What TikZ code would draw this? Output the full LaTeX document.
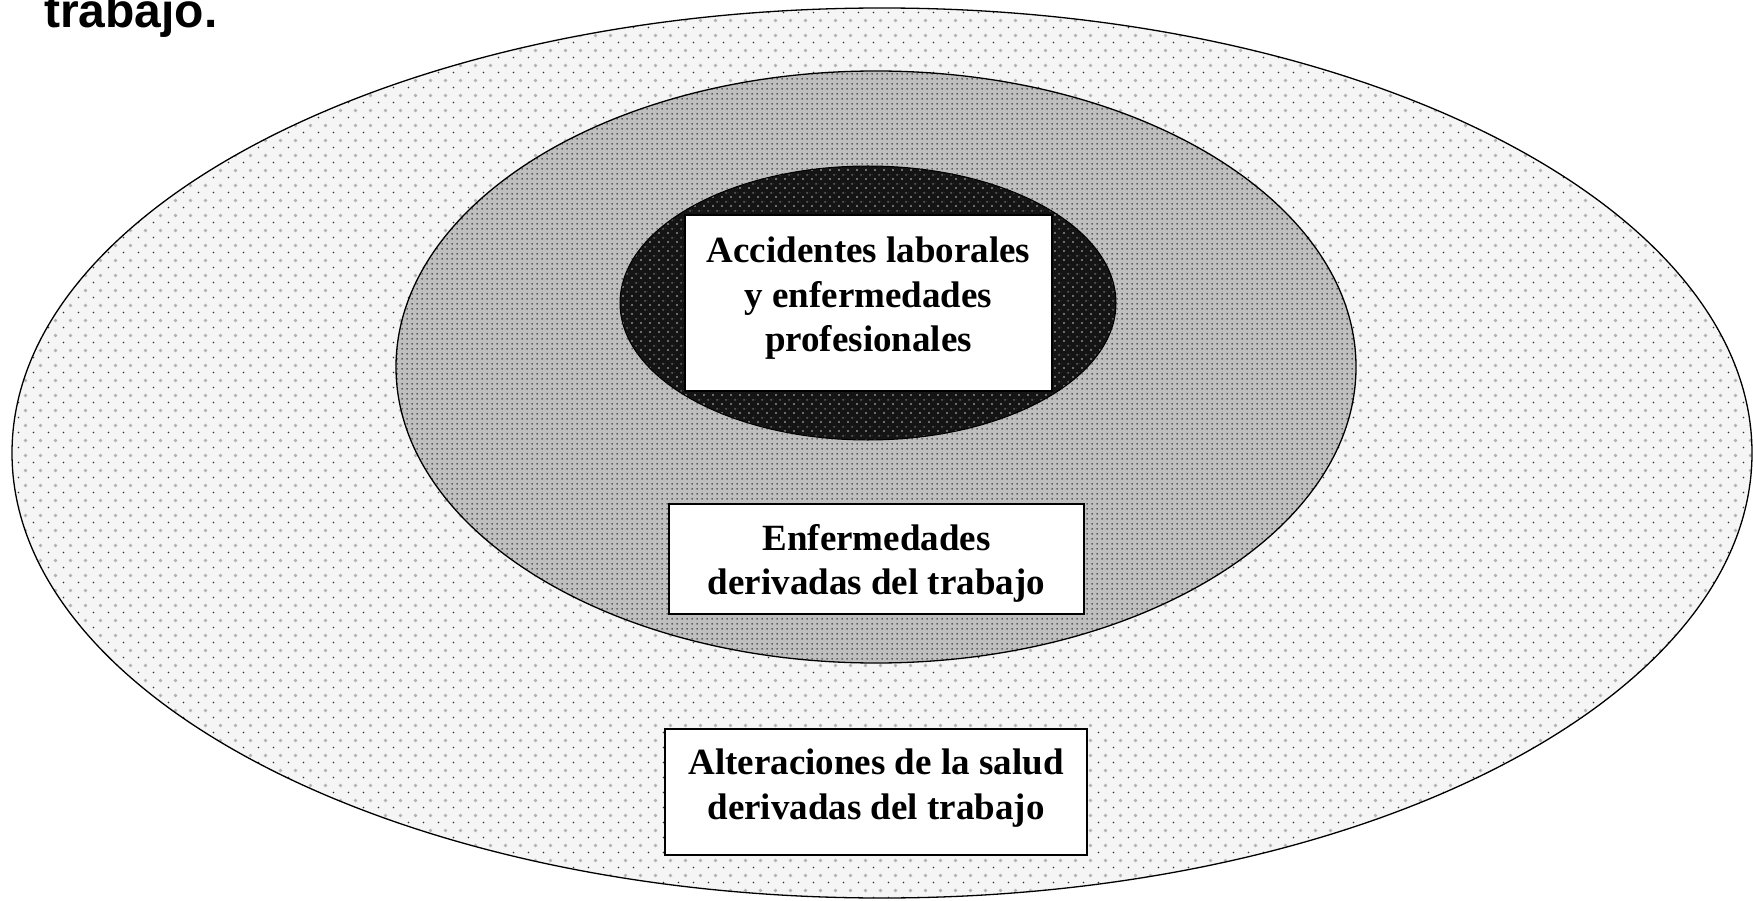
\documentclass[tikz,border=0pt]{standalone}
\usepackage{fontspec}
\setmainfont{Liberation Serif}
\newfontfamily\arialfont{Liberation Sans}
\usetikzlibrary{patterns.meta}
\tikzdeclarepattern{
  name=outerdots, type=colored,
  bounding box={(0pt,0pt) and (15pt,15pt)},
  tile size={(15pt,15pt)},
  code={
    \fill[black!80] (3.75pt,3.75pt) circle (0.9pt);
    \fill[black!30] (11.25pt,11.25pt) circle (2pt);
  }}
\tikzdeclarepattern{
  name=middots, type=colored,
  bounding box={(0pt,0pt) and (5pt,5pt)},
  tile size={(5pt,5pt)},
  code={
    \fill[black!80] (2.5pt,2.5pt) circle (1pt);
  }}
\tikzdeclarepattern{
  name=innerdots, type=colored,
  bounding box={(0pt,0pt) and (9pt,9pt)},
  tile size={(9pt,9pt)},
  code={
    \fill[black!45] (2.25pt,2.25pt) circle (1.3pt);
    \fill[black!65] (6.75pt,6.75pt) circle (1.3pt);
  }}
\begin{document}
\begin{tikzpicture}[x=1pt,y=-1pt,
  ring/.style={draw=black, line width=1.3pt},
  labelbox/.style={draw=black, line width=1.4pt, fill=white, inner sep=0pt},
  boxtext/.style={align=center, inner sep=0pt,
     font=\bfseries\fontsize{37}{44.5}\selectfont}]
\useasboundingbox (0,0) rectangle (1753,901);
\fill[white] (0,0) rectangle (1753,901);
% outer ellipse
\fill[gray!8] (882,453) ellipse [x radius=870pt, y radius=445pt];
\fill[pattern=outerdots] (882,453) ellipse [x radius=870pt, y radius=445pt];
\draw[ring] (882,453) ellipse [x radius=870pt, y radius=445pt];
% middle ellipse
\fill[gray!50] (876,367) ellipse [x radius=480pt, y radius=296pt];
\fill[pattern=middots] (876,367) ellipse [x radius=480pt, y radius=296pt];
\draw[ring] (876,367) ellipse [x radius=480pt, y radius=296pt];
% inner ellipse
\fill[black!92] (868,303) ellipse [x radius=248pt, y radius=137pt];
\fill[pattern=innerdots] (868,303) ellipse [x radius=248pt, y radius=137pt];
\draw[black, line width=1pt] (868,303) ellipse [x radius=248pt, y radius=137pt];
% boxes
\node[labelbox, minimum width=367pt, minimum height=176pt,
  label={[boxtext, yshift=4.5pt]center:{Accidentes laborales\\y enfermedades\\profesionales}}] (acc) at (868.5,303) {};
\node[labelbox, minimum width=415pt, minimum height=110pt,
  label={[boxtext, yshift=-4.5pt]center:{Enfermedades\\derivadas del trabajo}}] (enf) at (876.5,559) {};
\node[labelbox, minimum width=422pt, minimum height=126pt,
  label={[boxtext, yshift=4pt]center:{Alteraciones de la salud\\derivadas del trabajo}}] (alt) at (876,792) {};
\node[anchor=base west, inner sep=0pt, font=\arialfont\bfseries\fontsize{48}{52}\selectfont] (title) at (44,28) {trabajo.};
\end{tikzpicture}
\end{document}
